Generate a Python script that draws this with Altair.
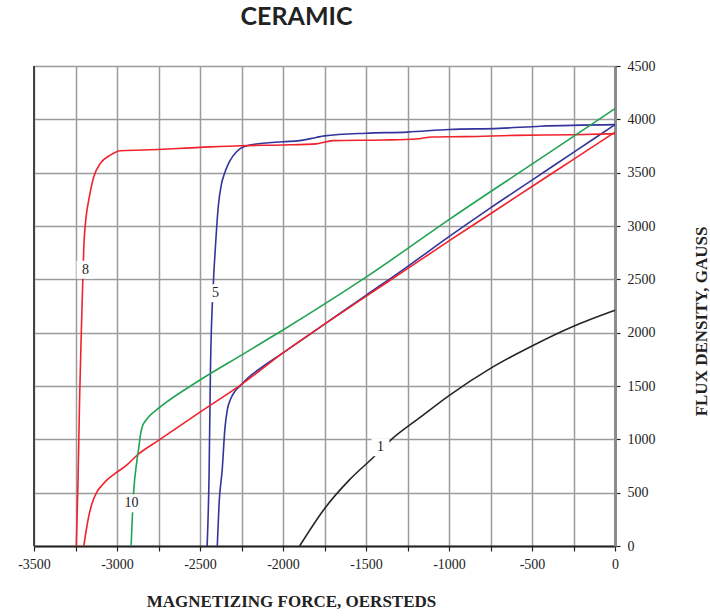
import altair as alt
import pandas as pd

# Demagnetization curves for ceramic (ferrite) magnet grades.
# Each curve: magnetizing force H (oersteds) and flux density B (gauss).

c1_h = [-1900, -1750, -1600, -1460, -1350, -1170, -1000, -750, -500, -250, 0]
c1_b = [0, 350, 620, 825, 995, 1210, 1410, 1665, 1875, 2060, 2210]

c5n_h = [-2396, -2385, -2366, -2350, -2335, -2315, -2290, -2256, -2200, -2150, -2000,
         -1750, -1500, -1250, -1000, -750, -500, -250, 0]
c5n_b = [0, 400, 720, 1100, 1280, 1380, 1450, 1505, 1590, 1650, 1810,
         2080, 2350, 2620, 2900, 3170, 3430, 3690, 3950]

c5i_h = [-2457, -2445, -2437, -2420, -2407, -2390, -2370, -2355, -2330, -2300, -2256,
         -2200, -2000, -1900, -1800, -1750, -1500, -1250, -1000, -700, -450, 0]
c5i_b = [0, 700, 1650, 2450, 2806, 3180, 3400, 3480, 3580, 3660, 3728,
         3760, 3790, 3800, 3830, 3845, 3870, 3880, 3905, 3915, 3935, 3950]

c8n_h = [-3200, -3185, -3170, -3150, -3120, -3090, -3060, -3020, -2940, -2880, -2750,
         -2500, -2250, -2000, -1750, -1500, -1250, -1000, -750, -500, -250, 0]
c8n_b = [0, 150, 280, 400, 510, 570, 620, 670, 760, 850, 990,
         1255, 1515, 1810, 2080, 2340, 2600, 2860, 3115, 3370, 3625, 3880]

c8i_h = [-3245, -3235, -3225, -3215, -3200, -3185, -3170, -3140, -3100, -3040, -2980,
         -2840, -2500, -2256, -2000, -1800, -1700, -1400, -1200, -1100, -900, -600, -250, 0]
c8i_b = [0, 600, 1400, 2000, 2800, 3100, 3244, 3462, 3587, 3665, 3706,
         3712, 3737, 3753, 3760, 3770, 3800, 3806, 3815, 3835, 3838, 3850, 3855, 3865]

c10_h = [-2915, -2900, -2880, -2868, -2860, -2848, -2830, -2810, -2738, -2500, -2250,
         -2000, -1500, -1000, -500, 0]
c10_b = [0, 500, 800, 930, 1030, 1118, 1170, 1210, 1306, 1556, 1790,
         2025, 2520, 3060, 3580, 4100]

series = [
    ("1", c1_h, c1_b),
    ("5n", c5n_h, c5n_b),
    ("5i", c5i_h, c5i_b),
    ("8n", c8n_h, c8n_b),
    ("8i", c8i_h, c8i_b),
    ("10", c10_h, c10_b),
]
series_names = [s[0] for s in series]
series_colors = ["#262626", "#34349c", "#34349c", "#f0222c", "#f0222c", "#22a352"]

rows = []
for name, hs, bs in series:
    for i, (h, b) in enumerate(zip(hs, bs)):
        rows.append({"curve": name, "H": h, "B": b, "idx": i})
curves = pd.DataFrame(rows)

# Curve labels
lbl_text = ["8", "5", "10", "1"]
lbl_h = [-3190, -2407, -2912, -1413]
lbl_b = [2590, 2370, 400, 925]
labels = pd.DataFrame({"text": lbl_text, "H": lbl_h, "B": lbl_b})

x_ticks = list(range(-3500, 1, 250))
y_ticks = list(range(0, 4501, 250))

x_scale = alt.Scale(domain=[-3500, 0], nice=False, zero=False)
y_scale = alt.Scale(domain=[0, 4500], nice=False, zero=False)

x_axis = alt.Axis(
    values=x_ticks,
    labelExpr="datum.value % 500 == 0 ? '' + datum.value : ''",
    title="MAGNETIZING FORCE, OERSTEDS",
    titleFont="Liberation Serif", titleFontSize=17, titleFontWeight="bold",
    titleColor="#222222", titleX=257, titleY=60, titleBaseline="alphabetic",
    labelFont="Liberation Serif", labelFontSize=14, labelColor="#222222",
    labelPadding=6, labelFlush=False, labelOverlap=False,
    tickSize=5, tickColor="#222222", tickWidth=1.2,
    domainColor="#222222", domainWidth=2,
    grid=True, gridColor="#9b9b9b", gridWidth=1.5,
)
y_axis = alt.Axis(
    orient="right",
    values=y_ticks,
    labelExpr="datum.value % 500 == 0 ? '' + datum.value : ''",
    title="FLUX DENSITY, GAUSS",
    titleFont="Liberation Serif", titleFontSize=17, titleFontWeight="bold",
    titleColor="#222222", titleAngle=270, titleX=86, titleY=255,
    titleBaseline="middle", titleAlign="center",
    labelFont="Liberation Serif", labelFontSize=14, labelColor="#222222",
    labelPadding=7, labelFlush=False, labelOverlap=False, labelBaseline="middle",
    tickSize=5, tickColor="#222222", tickWidth=1.2,
    domainColor="#8c8c8c", domainWidth=3,
    grid=True, gridColor="#9b9b9b", gridWidth=1.5,
)

base = alt.Chart(curves)

lines = base.mark_line(strokeWidth=1.6, interpolate="monotone").encode(
    x=alt.X("H:Q", scale=x_scale, axis=x_axis),
    y=alt.Y("B:Q", scale=y_scale, axis=y_axis),
    color=alt.Color("curve:N", scale=alt.Scale(domain=series_names, range=series_colors), legend=None),
    order="idx:Q",
)

left_edge = alt.Chart(pd.DataFrame({"H": [-3500]})).mark_rule(color="#444444", strokeWidth=2).encode(
    x=alt.X("H:Q", scale=x_scale)
)

boxes = alt.Chart(labels).mark_square(size=320, color="white", opacity=1, filled=True).encode(
    x=alt.X("H:Q", scale=x_scale),
    y=alt.Y("B:Q", scale=y_scale),
)

texts = alt.Chart(labels).mark_text(font="Liberation Serif", fontSize=14, color="#222222").encode(
    x=alt.X("H:Q", scale=x_scale),
    y=alt.Y("B:Q", scale=y_scale),
    text="text:N",
)

chart = alt.layer(left_edge, lines, boxes, texts).properties(
    width=581,
    height=480,
    title=alt.TitleParams("CERAMIC", font="Lato", fontSize=25, fontWeight="bold",
                          color="#222222", anchor="middle", dx=-28, offset=29),
    autosize=alt.AutoSizeParams(type="none"),
    padding={"left": 34, "top": 66, "right": 95, "bottom": 70},
).configure_view(stroke=None).configure(background="white")

chart.save("out.html", embed_options={"renderer": "svg", "actions": False})
